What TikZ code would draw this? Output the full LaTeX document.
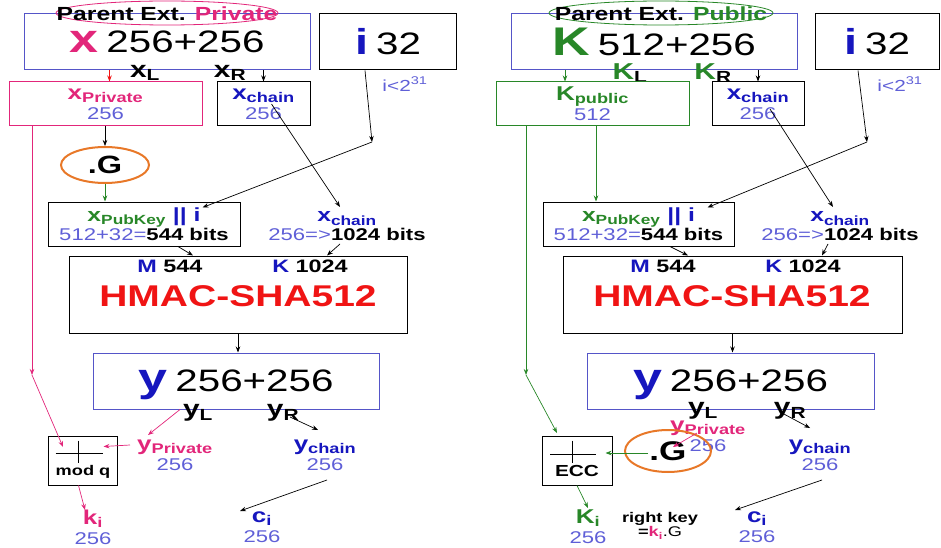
\documentclass[tikz,border=0pt]{standalone}
\usepackage{fontspec}
\setmainfont[FakeStretch=1.3]{Liberation Sans}
\usetikzlibrary{
    arrows.meta,
    shapes.geometric,
    positioning,
    calc
}
\definecolor{keypink}{RGB}{226,38,122}
\definecolor{keygreen}{RGB}{40,135,40}
\definecolor{darkblue}{RGB}{22,22,190}
\definecolor{numblue}{RGB}{95,95,215}
\definecolor{boxblue}{RGB}{85,85,200}
\definecolor{gorange}{RGB}{232,120,40}
\definecolor{hmacred}{RGB}{240,20,20}
\newcommand{\fsz}[1]{\fontsize{#1}{#1}\selectfont}
\tikzstyle{keybox} = [
    rectangle,
    draw=black,
    line width=1pt,
    inner sep=0pt,
    align=center
]
\tikzstyle{bluebox} = [keybox, draw=boxblue]
\tikzstyle{pinkbox} = [keybox, draw=keypink]
\tikzstyle{greenbox} = [keybox, draw=keygreen]
\tikzstyle{lbl} = [inner sep=0pt, align=center]
\tikzstyle{gmark} = [
    ellipse,
    draw=gorange,
    line width=2pt,
    inner sep=0pt
]
\tikzstyle{arrow} = [
    -{Stealth[length=6pt,width=4.5pt]},
    line width=0.7pt
]

\begin{document}
\begin{tikzpicture}[x=1pt, y=-1pt]
        \useasboundingbox (0,0) rectangle (941,548);

        % Left: parent extended private key
        \node[bluebox, minimum width=286pt, minimum height=56pt] (xpar) at (167,42) {{\bfseries\fsz{40}\color{keypink}x}\hspace{8pt}{\fsz{31}256+256}};
        \draw[keypink, line width=0.8pt] (167,13) ellipse [x radius=111pt, y radius=12pt];
        \node[lbl, font={\bfseries\fsz{19}}] (xhead) at (167,14) {Parent Ext. \textcolor{keypink}{Private}};
        \node[keybox, minimum width=137pt, minimum height=56pt] (ibox) at (388,42) {{\bfseries\fsz{36}\color{darkblue}i}\hspace{8pt}{\fsz{31}32}};
        \node[lbl, font=\fsz{16}, text=numblue] (ilim) at (405,84) {i<2\textsuperscript{31}};
        \node[lbl, font={\bfseries\fsz{23}}] (xl) at (145,73) {x\textsubscript{L}};
        \node[lbl, font={\bfseries\fsz{23}}] (xr) at (230,73) {x\textsubscript{R}};

        \node[pinkbox, minimum width=193pt, minimum height=44pt, font=\fsz{20}] (xpriv) at (105.5,104) {\textcolor{keypink}{\bfseries x\textsubscript{Private}}\\{\fsz{17}\color{numblue}256}};
        \node[keybox, minimum width=93pt, minimum height=44pt, font=\fsz{20}] (xchbox) at (263.5,104) {\textcolor{darkblue}{\bfseries x\textsubscript{chain}}\\{\fsz{17}\color{numblue}256}};
        \node[gmark, minimum width=88pt, minimum height=36pt, font={\bfseries\fsz{25}}] (gmul) at (105,165) {.G};
        \coordinate (ibend) at (372,142);

        \node[keybox, minimum width=192pt, minimum height=44pt, font=\fsz{19}] (xpub) at (144,224) {{\bfseries\color{keygreen}x\textsubscript{PubKey}} {\bfseries\color{darkblue}|| i}\\{\fsz{17}\color{numblue}512+32=\textcolor{black}{\bfseries 544 bits}}};
        \node[lbl, font=\fsz{19}] (xchlbl) at (347,226) {{\bfseries\color{darkblue}x\textsubscript{chain}}\\{\fsz{17}\color{numblue}256=>\textcolor{black}{\bfseries 1024 bits}}};

        \node[keybox, minimum width=338pt, minimum height=77pt] (hmac) at (238,294.5) {};
        \node[lbl, font={\bfseries\fsz{18}}] (mlen) at (170,266) {\textcolor{darkblue}{M} 544};
        \node[lbl, font={\bfseries\fsz{18}}] (klen) at (310,266) {\textcolor{darkblue}{K} 1024};
        \node[lbl, font={\bfseries\fsz{30}}, text=hmacred] (hname) at (238,296) {HMAC-SHA512};

        \node[bluebox, minimum width=286pt, minimum height=56pt, text depth=0pt] (ybox) at (236,381) {{\bfseries\fsz{40}\color{darkblue}y}\hspace{8pt}{\fsz{31}256+256}};
        \node[lbl, font={\bfseries\fsz{23}}] (yl) at (198,413) {y\textsubscript{L}};
        \node[lbl, font={\bfseries\fsz{23}}] (yr) at (283,413) {y\textsubscript{R}};
        \node[lbl, font=\fsz{20}] (ypriv) at (175,455) {{\bfseries\color{keypink}y\textsubscript{Private}}\\{\fsz{17}\color{numblue}256}};
        \node[lbl, font=\fsz{20}] (ych) at (325,455) {{\bfseries\color{darkblue}y\textsubscript{chain}}\\{\fsz{17}\color{numblue}256}};

        \node[keybox, minimum width=69pt, minimum height=49pt] (modq) at (82.5,460.5) {};
        \draw[line width=0.8pt] ([shift={(-27,-7)}]modq.center) -- ++(47,0);
        \draw[line width=0.8pt] ([shift={(-4.5,-20)}]modq.center) -- ++(0,22);
        \node[lbl, font={\bfseries\fsz{14}}] (modqname) at (83,472) {mod q};
        \coordinate (pbend) at (32,375);

        \node[lbl, font=\fsz{20}] (ki) at (93,527) {{\bfseries\color{keypink}k\textsubscript{i}}\\{\fsz{17}\color{numblue}256}};
        \node[lbl, font=\fsz{20}] (ci) at (262,527) {{\bfseries\color{darkblue}c\textsubscript{i}}\\{\fsz{17}\color{numblue}256}};

        % Left arrows
        \draw[arrow, hmacred] ([xshift=4pt]xpriv.north |- xpar.south) -- ([xshift=4pt]xpriv.north);
        \draw[arrow] (xchbox.north |- xpar.south) -- (xchbox.north);
        \draw[arrow] (xpriv.south -| gmul.north) -- (gmul.north);
        \draw[arrow, keygreen] (gmul.south) -- (gmul.south |- xpub.north);
        \draw[arrow] ([xshift=-23pt]ibox.south) -- (ibend);
        \draw[arrow] (ibend) -- ([shift={(-38,6)}]xpub.north east);
        \draw[arrow] ([xshift=8pt]xchbox.center) -- ([shift={(-7,-19)}]xchlbl.center);
        \draw[arrow] ([xshift=34pt]xpub.south) -- ([xshift=-45pt]hmac.north);
        \draw[arrow] ([shift={(-7,18)}]xchlbl.center) -- ([xshift=89pt]hmac.north);
        \draw[arrow] (hmac.south) -- (hmac.south |- ybox.north);
        \draw[arrow, keypink] ([xshift=-56pt]ybox.south) -- ([shift={(-27,-20)}]ypriv.center);
        \draw[arrow, keypink] ([shift={(-45,-10)}]ypriv.center) -- ([shift={(-14,-14)}]modq.east);
        \draw[arrow] ([shift={(7,4)}]yr.center) -- ([shift={(-7,-25)}]ych.center);
        \draw[arrow, keypink] (xpriv.south -| pbend) -- (pbend);
        \draw[arrow, keypink] (pbend) -- ([shift={(-19.5,-13.5)}]modq.center);
        \draw[arrow, keypink] ([xshift=-4pt]modq.south) -- ([shift={(-8,-17)}]ki.center);
        \draw[arrow] ([shift={(2,25)}]ych.center) -- ([shift={(-22,-16)}]ci.center);

        % Right: parent extended public key
        \node[bluebox, minimum width=286pt, minimum height=56pt] (kpar) at (654,42) {{\bfseries\fsz{40}\color{keygreen}K}\hspace{8pt}{\fsz{31}512+256}};
        \draw[keygreen, line width=0.8pt] (661,13) ellipse [x radius=112pt, y radius=12pt];
        \node[lbl, font={\bfseries\fsz{19}}] (khead) at (661,14) {Parent Ext. \textcolor{keygreen}{Public}};
        \node[keybox, minimum width=124pt, minimum height=56pt] (ibox2) at (877,42) {{\bfseries\fsz{36}\color{darkblue}i}\hspace{8pt}{\fsz{31}32}};
        \node[lbl, font=\fsz{16}, text=numblue] (ilim2) at (900,84) {i<2\textsuperscript{31}};
        \node[lbl, font={\bfseries\fsz{23}}] (kl) at (630,73) {\textcolor{keygreen}{K}\textsubscript{L}};
        \node[lbl, font={\bfseries\fsz{23}}] (kr) at (713,73) {\textcolor{keygreen}{K}\textsubscript{R}};

        \node[greenbox, minimum width=193pt, minimum height=44pt, font=\fsz{20}] (kpub) at (592.5,104) {\textcolor{keygreen}{\bfseries K\textsubscript{public}}\\{\fsz{17}\color{numblue}512}};
        \node[keybox, minimum width=92pt, minimum height=44pt, font=\fsz{20}] (xchbox2) at (758,104) {\textcolor{darkblue}{\bfseries x\textsubscript{chain}}\\{\fsz{17}\color{numblue}256}};
        \coordinate (ibend2) at (867,142);

        \node[keybox, minimum width=191pt, minimum height=44pt, font=\fsz{19}] (xpub2) at (638.5,224) {{\bfseries\color{keygreen}x\textsubscript{PubKey}} {\bfseries\color{darkblue}|| i}\\{\fsz{17}\color{numblue}512+32=\textcolor{black}{\bfseries 544 bits}}};
        \node[lbl, font=\fsz{19}] (xchlbl2) at (840,226) {{\bfseries\color{darkblue}x\textsubscript{chain}}\\{\fsz{17}\color{numblue}256=>\textcolor{black}{\bfseries 1024 bits}}};

        \node[keybox, minimum width=339pt, minimum height=77pt] (hmac2) at (732.5,294.5) {};
        \node[lbl, font={\bfseries\fsz{18}}] (mlen2) at (663,266) {\textcolor{darkblue}{M} 544};
        \node[lbl, font={\bfseries\fsz{18}}] (klen2) at (803,266) {\textcolor{darkblue}{K} 1024};
        \node[lbl, font={\bfseries\fsz{30}}, text=hmacred] (hname2) at (732,296) {HMAC-SHA512};

        \node[bluebox, minimum width=287pt, minimum height=56pt, text depth=0pt] (ybox2) at (730.5,381) {{\bfseries\fsz{40}\color{darkblue}y}\hspace{8pt}{\fsz{31}256+256}};
        \node[lbl, font={\bfseries\fsz{23}}] (yl2) at (703,411) {y\textsubscript{L}};
        \node[lbl, font={\bfseries\fsz{23}}] (yr2) at (790,411) {y\textsubscript{R}};
        \node[lbl, font=\fsz{20}] (ypriv2) at (708,436) {{\bfseries\color{keypink}y\textsubscript{Private}}\\{\fsz{17}\color{numblue}256}};
        \node[gmark, minimum width=86pt, minimum height=42pt, font={\bfseries\fsz{27}}] (gmul2) at (668,451) {.G};
        \node[lbl, font=\fsz{20}] (ych2) at (820,455) {{\bfseries\color{darkblue}y\textsubscript{chain}}\\{\fsz{17}\color{numblue}256}};

        \node[keybox, minimum width=70pt, minimum height=49pt] (ecc) at (577,460.5) {};
        \draw[line width=0.8pt] ([shift={(-27,-6.5)}]ecc.center) -- ++(46,0);
        \draw[line width=0.8pt] ([shift={(-5,-20)}]ecc.center) -- ++(0,22);
        \node[lbl, font={\bfseries\fsz{16}}] (eccname) at (577,471) {ECC};
        \coordinate (gbend) at (526,375);

        \node[lbl, font=\fsz{20}] (ki2) at (588,527) {{\bfseries\color{keygreen}K\textsubscript{i}}\\{\fsz{17}\color{numblue}256}};
        \node[lbl, font={\bfseries\fsz{14}}] (rkey) at (660,526) {right key\\=\textcolor{keypink}{k\textsubscript{i}}\textmd{.G}};
        \node[lbl, font=\fsz{20}] (ci2) at (757,527) {{\bfseries\color{darkblue}c\textsubscript{i}}\\{\fsz{17}\color{numblue}256}};

        % Right arrows
        \draw[arrow, keygreen] ([xshift=-27.5pt]kpub.north |- kpar.south) -- ([xshift=-27.5pt]kpub.north);
        \draw[arrow] (xchbox2.north |- kpar.south) -- (xchbox2.north);
        \draw[arrow, keygreen] ([xshift=3.5pt]kpub.south) -- ([xshift=3.5pt]kpub.south |- xpub2.north);
        \draw[arrow] ([xshift=-19pt]ibox2.south) -- (ibend2);
        \draw[arrow] (ibend2) -- ([shift={(-27,6)}]xpub2.north east);
        \draw[arrow] ([shift={(12,5)}]xchbox2.center) -- ([shift={(-7,-19)}]xchlbl2.center);
        \draw[arrow] ([xshift=31.5pt]xpub2.south) -- ([xshift=-44.5pt]hmac2.north);
        \draw[arrow] ([shift={(-12,18)}]xchlbl2.center) -- ([xshift=89.5pt]hmac2.north);
        \draw[arrow] (hmac2.south) -- (hmac2.south |- ybox2.north);
        \draw[arrow, keypink] ([shift={(-11,-3)}]ypriv2.center) -- ([shift={(5,-4)}]gmul2.center);
        \draw[arrow, keygreen] ([shift={(-20,2)}]gmul2.center) -- ([shift={(-7,-7.5)}]ecc.east);
        \draw[arrow, keygreen] (kpub.south -| gbend) -- (gbend);
        \draw[arrow, keygreen] (gbend) -- ([shift={(-20,-27.5)}]ecc.center);
        \draw[arrow, keygreen] (ecc.south) -- ([shift={(0,-19)}]ki2.center);
        \draw[arrow] ([shift={(-8,2)}]yr2.center) -- ([shift={(-10,-27)}]ych2.center);
        \draw[arrow] ([shift={(2,25)}]ych2.center) -- ([shift={(-22,-17)}]ci2.center);
    \end{tikzpicture}
\end{document}
